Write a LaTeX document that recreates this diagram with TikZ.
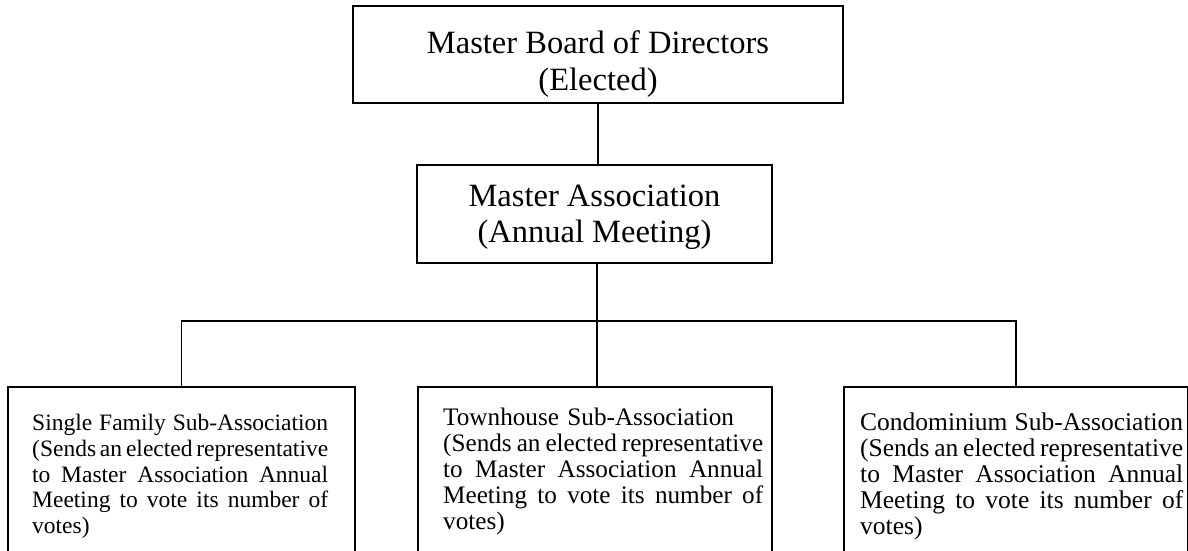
\documentclass[tikz,border=0pt]{standalone}
\usepackage{fontspec}
\setmainfont{Liberation Serif}
\newcommand\jl[2]{\makebox[#1][s]{\spaceskip=.2em plus 1em minus .06em\relax #2}}
\begin{document}
\begin{tikzpicture}[x=1pt,y=-1pt,
  box/.style={draw, line width=1.8pt, inner sep=0pt},
  link/.style={line width=1.8pt},
  txt/.style={inner sep=0pt, text=black},
  subtxt/.style={txt, anchor=north west, align=left}]
\useasboundingbox (0,0) rectangle (1188,550);
\clip (0,0) rectangle (1188,550);
% boxes
\node[box, minimum width=490pt, minimum height=97pt] (board) at (598,54.5) {};
\node[box, minimum width=355pt, minimum height=98pt] (master) at (594.5,214) {};
\node[box, minimum width=347pt, minimum height=200pt, anchor=north west] (sf) at (7,386) {};
\node[box, minimum width=354pt, minimum height=200pt, anchor=north west] (th) at (417,386) {};
\node[box, minimum width=344pt, minimum height=200pt, anchor=north west] (condo) at (843,386) {};
% texts
\node[txt, anchor=north, align=center, font=\fontsize{32.5}{37}\selectfont] (boardtxt) at (598,30.6) {Master Board of Directors\\(Elected)};
\node[txt, anchor=north, align=center, font=\fontsize{32.5}{36}\selectfont] (mastertxt) at (594.5,184.6) {Master Association\\(Annual Meeting)};
\node[subtxt, text width=296pt, font=\fontsize{23.5}{25.8}\selectfont] (sftxt) at (32,414) {\jl{296pt}{Single Family Sub-Association}\\
\jl{296pt}{(Sends an elected representative}\\
\jl{296pt}{to Master Association Annual}\\
\jl{296pt}{Meeting to vote its number of}\\
votes)};
\node[subtxt, text width=320pt, font=\fontsize{25.2}{26}\selectfont] (thtxt) at (443,407.5) {Townhouse Sub-Association\\
\jl{320pt}{(Sends an elected representative}\\
\jl{320pt}{to Master Association Annual}\\
\jl{320pt}{Meeting to vote its number of}\\
votes)};
\node[subtxt, text width=323pt, font=\fontsize{25.5}{26}\selectfont] (condotxt) at (860,412.5) {\jl{323pt}{Condominium Sub-Association}\\
\jl{323pt}{(Sends an elected representative}\\
\jl{323pt}{to Master Association Annual}\\
\jl{323pt}{Meeting to vote its number of}\\
votes)};
% connectors
\coordinate (j) at (597,321);
\draw[link] (board.south) -- (board.south |- master.north);
\draw[link] (master.south -| j) -- (j);
\draw[link] (sf.north) |- (j) -| (condo.north);
\draw[link] (j) -- (th.north -| j);
\end{tikzpicture}
\end{document}
